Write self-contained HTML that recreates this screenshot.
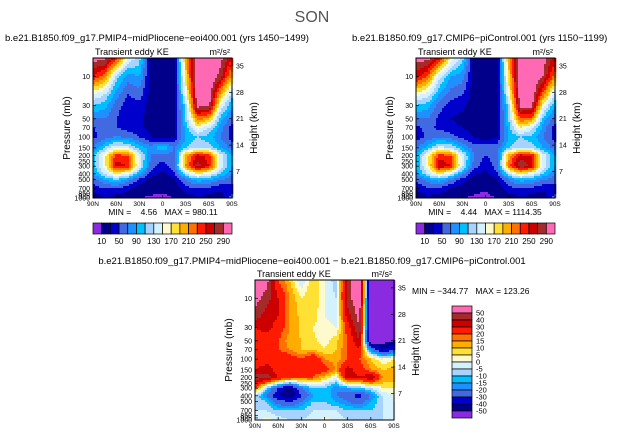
<!DOCTYPE html>
<html><head><meta charset="utf-8">
<style>
html,body{margin:0;padding:0;background:#fff;}
#wrap{position:relative;width:624px;height:437px;overflow:hidden;font-family:"Liberation Sans",sans-serif;}
svg text{font-family:"Liberation Sans",sans-serif;fill:#000;white-space:pre;}
</style></head>
<body>
<div id="wrap">
<svg id="fig" width="624" height="437" viewBox="0 0 624 437" xmlns="http://www.w3.org/2000/svg">
<text x="312" y="22" font-size="16" text-anchor="middle" style="fill:#555">SON</text>
</svg>
</div>
<script>
// ---- data ----
const lats = [90,75,60,45,30,15,0,-15,-30,-45,-60,-75,-90];
const levels = [5,10,20,30,50,70,100,150,200,300,400,500,700,1000];
const keMid = [
 [300,300,250,150,120,20,10,20,200,320,320,300,250],
 [250,220,120,80,90,20,10,20,180,320,320,280,200],
 [150,130,80,50,60,20,10,20,150,310,310,200,120],
 [110,100,60,40,40,20,15,20,120,300,300,150,90],
 [70,70,50,35,35,20,12,25,110,220,200,100,60],
 [50,55,50,40,35,20,12,25,100,160,130,80,40],
 [45,60,75,65,50,30,15,30,90,110,100,70,40],
 [70,110,150,140,100,80,110,70,110,130,120,90,60],
 [100,160,240,230,140,70,60,60,200,260,240,140,90],
 [100,160,260,250,140,60,40,60,210,280,250,140,90],
 [90,130,170,150,90,40,25,45,130,170,150,110,70],
 [60,90,110,80,45,20,15,25,70,100,90,70,60],
 [35,50,50,35,20,15,15,20,40,50,45,35,40],
 [20,30,20,12,10,8,5,10,20,25,20,15,60]];
const kePi = [
 [300,300,260,170,120,20,10,20,200,320,320,300,260],
 [260,230,140,90,80,20,10,20,180,320,320,290,220],
 [160,140,90,60,50,20,10,20,150,310,310,220,130],
 [110,100,60,40,35,20,12,20,120,300,300,160,90],
 [70,70,45,30,25,15,12,25,110,230,220,100,60],
 [45,55,45,35,30,20,12,25,100,170,140,80,40],
 [40,55,70,60,45,30,15,30,90,110,100,70,40],
 [65,100,140,130,90,60,70,60,110,130,120,90,60],
 [90,160,240,230,140,70,50,60,200,260,250,140,90],
 [90,160,270,250,140,60,35,60,220,290,260,140,90],
 [80,130,170,140,80,35,25,45,130,170,150,110,70],
 [55,80,100,70,40,20,15,25,70,100,90,70,60],
 [30,45,45,30,20,15,12,20,40,50,45,35,40],
 [20,25,20,12,10,8,5,10,20,25,20,15,60]];
const keDiff = [
 [60,55,20,10,-5,10,0,-8,45,60,-60,-60,-60],
 [55,45,30,15,5,10,0,-5,45,60,-60,-60,-60],
 [45,35,30,15,8,8,0,-3,35,55,-60,-60,-60],
 [30,35,25,15,8,5,2,0,25,50,-60,-60,-60],
 [25,20,20,12,10,6,3,8,20,40,-60,-55,-50],
 [25,22,20,15,10,10,5,10,20,30,-20,-40,-30],
 [25,25,30,25,20,30,15,12,20,20,10,0,5],
 [30,35,25,22,20,25,25,15,35,25,15,10,12],
 [45,45,30,25,20,20,10,0,35,30,40,15,15],
 [20,-10,-30,-45,-20,-10,-10,-20,-15,-10,-5,5,5],
 [-5,-20,-40,-50,-30,-15,-10,-20,-25,-35,-20,-5,0],
 [-5,-10,-25,-30,-20,-10,-10,-15,-20,-25,-15,-5,0],
 [-5,-5,-10,-10,-10,-5,-5,-5,-10,-10,-10,-5,-5],
 [-3,2,-2,-5,-5,-3,2,-2,-5,-5,-5,-5,-3]];
const cLevKE = [10,30,50,70,90,110,130,150,170,190,210,230,250,270,290];
const cLevDiff = [-50,-40,-30,-20,-15,-10,-5,0,5,10,15,20,30,40,50];
const keLabels = ["10","50","90","130","170","210","250","290"];
const diffLabels = ["-50","-40","-30","-20","-15","-10","-5","0","5","10","15","20","30","40","50"];
const pTicks = [10,30,50,70,100,150,200,250,300,400,500,700,850,925,1000];
const hTicks = [7,14,21,28,35];
const latTicks = [90,60,30,0,-30,-60,-90];
const palette = ["#8a2be2","#00008b","#0000cd","#4169e1","#1e90ff","#00bfff","#a6d3ff","#d4f1ff","#fffacd","#ffe135","#ffad00","#ff7100","#ff1a00","#cd0000","#a52a2a","#ff69b4"];

const NS="http://www.w3.org/2000/svg";
const svg=document.getElementById('fig');
function mk(tag,attrs,parent){const e=document.createElementNS(NS,tag);for(const k in attrs)e.setAttribute(k,attrs[k]);(parent||svg).appendChild(e);return e;}
function txt(x,y,s,size,anchor,name,parent,rot){const t=mk('text',{x:x,y:y,'font-size':size,'text-anchor':anchor||'start'},parent);
 if(rot)t.setAttribute('transform','rotate(-90 '+x+' '+y+')');
 t.setAttribute('xml:space','preserve');
 t.textContent=s;
 
 
 return t;}
function latLabel(l){return l===0?'0':Math.abs(l)+(l>0?'N':'S');}
function colorFor(v,lev){let i=0;while(i<lev.length&&v>=lev[i])i++;return palette[i];}
function sample(field,latIdx,pIdx){
 const i0=Math.min(Math.floor(latIdx),lats.length-2),fx=latIdx-i0;
 const j0=Math.min(Math.floor(pIdx),levels.length-2),fy=pIdx-j0;
 const a=field[j0][i0],b=field[j0][i0+1],c=field[j0+1][i0],d=field[j0+1][i0+1];
 return a*(1-fx)*(1-fy)+b*fx*(1-fy)+c*(1-fx)*fy+d*fx*fy;}
function pIndex(p){const lp=Math.log(p);for(let j=0;j<levels.length-1;j++){const a=Math.log(levels[j]),b=Math.log(levels[j+1]);if(lp<=b)return j+Math.max(0,(lp-a)/(b-a));}return levels.length-1;}

function panel(o){
 const g=mk('g',{});
 
 
 const X0=o.x0,X1=o.x0+139,Y0=o.y0,Y1=o.y0+140;
 const pTop=5,pBot=1000;
 const yP=p=>Y1-(Y1-Y0)*Math.log(pBot/p)/Math.log(pBot/pTop);
 const xL=l=>X0+(X1-X0)*(90-l)/180;
 const cg=mk('g',{},g);
 
 
 const step=2;
 for(let y=Y0;y<Y1;y+=step){
  const p=pBot*Math.pow(pTop/pBot,(Y1-(y+step/2))/(Y1-Y0));
  const pi=pIndex(p);
  for(let x=X0;x<X1;x+=step){
   const lat=90-180*((x+step/2)-X0)/(X1-X0);
   const li=(90-lat)/15;
   const v=sample(o.field,li,pi);
   mk('rect',{x:x,y:y,width:step+0.3,height:step+0.3,fill:colorFor(v,o.lev)},cg);
  }
 }
 const fr=mk('rect',{x:X0,y:Y0,width:X1-X0,height:Y1-Y0,fill:'none',stroke:'#000','stroke-width':1},g);
 
 
 pTicks.forEach(p=>{const y=yP(p);mk('line',{x1:X0,x2:X0+3,y1:y,y2:y,stroke:'#000','stroke-width':0.7},g);
  txt(X0-3,y+2.5,String(p),7,'end','pressure-tick-label',g);});
 hTicks.forEach(h=>{const y=yP(1000*Math.exp(-h/7));mk('line',{x1:X1-3,x2:X1,y1:y,y2:y,stroke:'#000','stroke-width':0.7},g);
  txt(X1+4,y+2.5,String(h),7,'start','height-tick-label',g);});
 latTicks.forEach(l=>{const x=xL(l);mk('line',{x1:x,x2:x,y1:Y1,y2:Y1-3,stroke:'#000','stroke-width':0.7},g);
  txt(x,Y1+8,latLabel(l),6.5,'middle','latitude-tick-label',g);});
 txt(X0-23,(Y0+Y1)/2,'Pressure (mb)',10,'middle','y-axis-title',g,true);
 txt(X1+25,(Y0+Y1)/2,'Height (km)',10,'middle','right-axis-title',g,true);
 txt(X0+2,Y0-3,'Transient eddy KE',9,'start','variable-label',g);
 txt(X1-2,Y0-3,'m²/s²',9,'end','units-label',g);
 txt(o.tx,o.ty,o.title,9.5,o.tanchor||'start','panel-title',g);
 txt(o.mx,o.my,o.minmax,8.5,o.manchor||'middle','min-max-label',g);
}
function hbar(x0,y0,w,h,lev,labels,name){
 const g=mk('g',{});
 
 
 const bw=w/palette.length;
 palette.forEach((c,i)=>{const r=mk('rect',{x:x0+i*bw,y:y0,width:bw,height:h,fill:c,stroke:'#000','stroke-width':0.7},g);
  
  });
 lev.forEach((v,i)=>{if(i%2===0){txt(x0+(i+1)*bw,y0+h+10,labels[i/2],8,'middle','colorbar-label',g);}});
}
function vbar(x0,y0,w,h,labels,name){
 const g=mk('g',{});
 
 
 const bh=h/palette.length;
 for(let i=0;i<palette.length;i++){const r=mk('rect',{x:x0,y:y0+i*bh,width:w,height:bh,fill:palette[palette.length-1-i],stroke:'#000','stroke-width':0.7},g);
  
  }
 for(let i=0;i<labels.length;i++){txt(x0+w+4,y0+(i+1)*bh+2.5,labels[labels.length-1-i],7.5,'start','colorbar-label',g);}
}
panel({name:'panel-midpliocene',field:keMid,lev:cLevKE,x0:93,y0:58,tx:5,ty:41,title:'b.e21.B1850.f09_g17.PMIP4−midPliocene−eoi400.001 (yrs 1450−1499)',mx:163,my:215,minmax:'MIN =    4.56   MAX = 980.11'});
hbar(93,223,139,11,cLevKE,keLabels,'colorbar-midpliocene');
panel({name:'panel-picontrol',field:kePi,lev:cLevKE,x0:416,y0:58,tx:352,ty:41,title:'b.e21.B1850.f09_g17.CMIP6−piControl.001 (yrs 1150−1199)',mx:485,my:215,minmax:'MIN =    4.44   MAX = 1114.35'});
hbar(416,223,139,11,cLevKE,keLabels,'colorbar-picontrol');
panel({name:'panel-difference',field:keDiff,lev:cLevDiff,x0:255,y0:280,tx:312,ty:264,tanchor:'middle',title:'b.e21.B1850.f09_g17.PMIP4−midPliocene−eoi400.001 − b.e21.B1850.f09_g17.CMIP6−piControl.001',mx:412,my:294,manchor:'start',minmax:'MIN = −344.77   MAX = 123.26'});
vbar(452,306,20,112,diffLabels,'colorbar-difference');
</script>
</body></html>
